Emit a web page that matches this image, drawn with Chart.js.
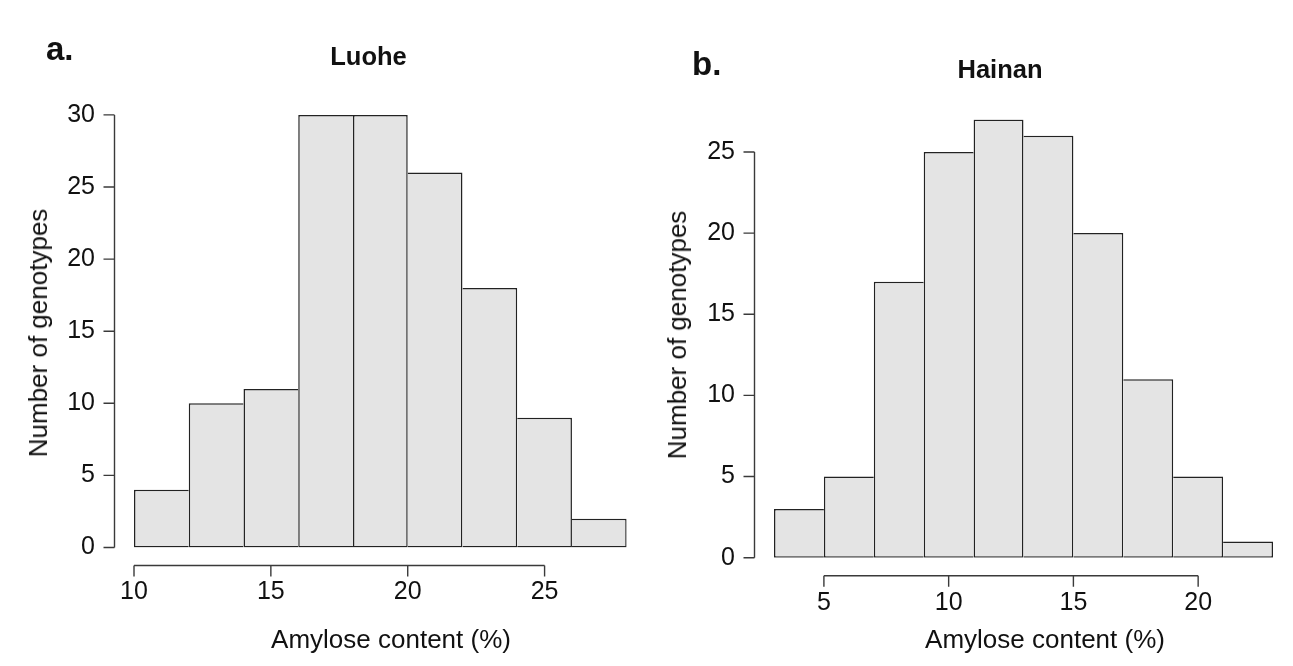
<!DOCTYPE html>
<html>
<head>
<meta charset="utf-8">
<script src="https://cdn.jsdelivr.net/npm/chart.js@4.4.1/dist/chart.umd.min.js"></script>
<style>
  html, body { margin: 0; padding: 0; background: #ffffff; }
  body { width: 1293px; height: 666px; position: relative; overflow: hidden; }
  .box { position: absolute; top: 0; height: 666px; }
  .t { position: absolute; font-family: "Liberation Sans", Arial, sans-serif; line-height: 1; white-space: nowrap; color: #111; }
  .b { font-weight: bold; }
  .c { transform: translateX(-50%); }
  .r { transform: translate(-50%, -50%) rotate(-90deg); }
</style>
</head>
<body>
<div class="box" style="left:0;width:646px;"><canvas id="c1"></canvas></div>
<div class="box" style="left:646px;width:647px;"><canvas id="c2"></canvas></div>

<div class="t b" style="left:46px;top:32px;font-size:33px;">a.</div>
<div class="t b" style="left:692px;top:47px;font-size:33px;">b.</div>
<div class="t b c" style="left:368.5px;top:44.4px;font-size:25.5px;">Luohe</div>
<div class="t b c" style="left:1000px;top:57.4px;font-size:25.5px;">Hainan</div>
<div class="t c" style="left:391px;top:626px;font-size:26px;">Amylose content (%)</div>
<div class="t c" style="left:1045px;top:626px;font-size:26px;">Amylose content (%)</div>
<div class="t r" style="left:38px;top:333px;font-size:26px;">Number of genotypes</div>
<div class="t r" style="left:677px;top:335px;font-size:26px;">Number of genotypes</div>

<script>
// ---- data ----
const luoheEdges = [10, 12, 14, 16, 18, 20, 22, 24, 26, 28];
const luoheCounts = [4, 10, 11, 30, 30, 26, 18, 9, 2];
const luoheXTicks = [10, 15, 20, 25];
const luoheYTicks = [0, 5, 10, 15, 20, 25, 30];

const hainanEdges = [3, 5, 7, 9, 11, 13, 15, 17, 19, 21, 23];
const hainanCounts = [3, 5, 17, 25, 27, 26, 20, 11, 5, 1];
const hainanXTicks = [5, 10, 15, 20];
const hainanYTicks = [0, 5, 10, 15, 20, 25];

// ---- R-style detached axes drawn from the chart's own scales ----
const rAxes = {
  id: 'rAxes',
  afterDraw(chart, args, o) {
    const { ctx, chartArea, scales } = chart;
    const x = scales.x, y = scales.y;
    ctx.save();
    ctx.strokeStyle = o.color;
    ctx.lineWidth = o.width;
    ctx.beginPath();
    const ax = chartArea.left - o.yGap;
    const yp = y.ticks.map(t => y.getPixelForValue(t.value));
    ctx.moveTo(ax, Math.max(...yp));
    ctx.lineTo(ax, Math.min(...yp));
    yp.forEach(p => { ctx.moveTo(ax, p); ctx.lineTo(ax - o.tick, p); });
    const ay = chartArea.bottom + o.xGap;
    const xp = x.ticks.map(t => x.getPixelForValue(t.value));
    ctx.moveTo(Math.min(...xp), ay);
    ctx.lineTo(Math.max(...xp), ay);
    xp.forEach(p => { ctx.moveTo(p, ay); ctx.lineTo(p, ay + o.tick); });
    ctx.stroke();
    ctx.restore();
  }
};

function histChart(id, edges, counts, xTicks, yTicks, layout) {
  const data = counts.map((c, i) => ({ x: (edges[i] + edges[i + 1]) / 2, y: c }));
  const bw = 1.5;
  const borderFn = (ctx) => {
    const i = ctx.dataIndex, n = counts.length, h = counts[i];
    return {
      top: bw, bottom: bw,
      left: (i === 0 || h >= counts[i - 1]) ? bw : 0,
      right: (i === n - 1 || h > counts[i + 1]) ? bw : 0
    };
  };
  const tickFont = { family: '"Liberation Sans", Arial, sans-serif', size: 25 };
  return new Chart(document.getElementById(id), {
    type: 'bar',
    data: {
      datasets: [{
        data: data,
        backgroundColor: '#e4e4e4',
        borderColor: '#222222',
        borderWidth: borderFn,
        borderSkipped: false,
        barPercentage: 1,
        categoryPercentage: 1,
        inflateAmount: 0
      }]
    },
    options: {
      responsive: true,
      maintainAspectRatio: false,
      animation: false,
      devicePixelRatio: 1,
      layout: { padding: { left: 0, right: layout.right, top: layout.top, bottom: 0 } },
      plugins: {
        legend: { display: false },
        tooltip: { enabled: false },
        rAxes: { color: '#3a3a3a', width: 1.4, yGap: 19.5, xGap: 18, tick: 11 }
      },
      scales: {
        x: {
          type: 'linear',
          offset: false,
          min: edges[0],
          max: edges[edges.length - 1],
          grid: { display: false, drawTicks: false },
          border: { display: false },
          ticks: { font: tickFont, color: '#111', padding: 30, maxRotation: 0, autoSkip: false },
          afterBuildTicks: s => { s.ticks = xTicks.map(v => ({ value: v })); },
          afterFit: s => { s.height = layout.xh; }
        },
        y: {
          min: 0,
          max: Math.max(...counts),
          grid: { display: false, drawTicks: false },
          border: { display: false },
          ticks: { font: tickFont, color: '#111', padding: 39, autoSkip: false },
          afterBuildTicks: s => { s.ticks = yTicks.map(v => ({ value: v })); },
          afterFit: s => { s.width = layout.yw; }
        }
      }
    },
    plugins: [rAxes]
  });
}

histChart('c1', luoheEdges, luoheCounts, luoheXTicks, luoheYTicks,
  { right: 19.3, top: 114.9, xh: 118.5, yw: 134 });
histChart('c2', hainanEdges, hainanCounts, hainanXTicks, hainanYTicks,
  { right: 20, top: 119.5, xh: 108.3, yw: 128 });
</script>
</body>
</html>
